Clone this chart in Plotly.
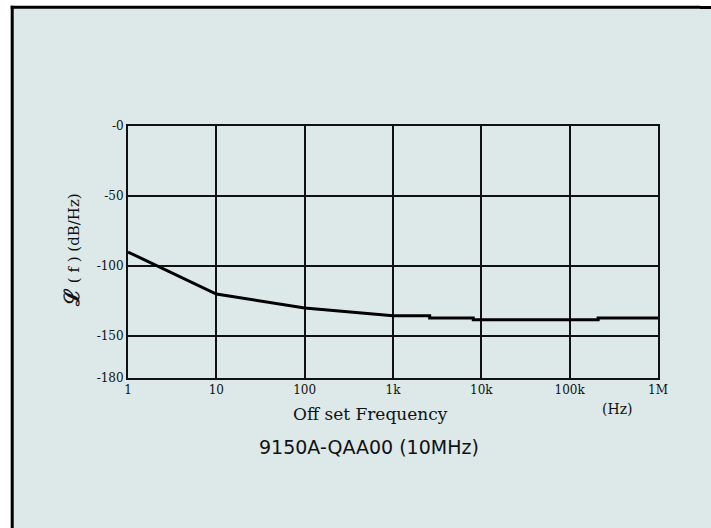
import plotly.graph_objects as go

# ---- data ----
freq_hz = [1, 10, 100, 1000, 2600, 2600, 8100, 8100, 210000, 210000, 1000000]
phase_noise_db = [-90, -120, -130, -135.5, -135.5, -137.2, -137.2, -138.4, -138.4, -137.2, -137.2]

x_tick_vals = [1, 10, 100, 1000, 10000, 100000, 1000000]
x_tick_text = ["1", "10", "100", "1k", "10k", "100k", "1M"]
y_tick_vals = [0, -50, -100, -150, -180]
y_tick_text = ["-0", "-50", "-100", "-150", "-180"]

# ---- layout geometry ----
W, H = 700, 528
L, R, T, B = 128, 42, 126, 150
PW, PH = W - L - R, H - T - B
BG = "#dce9e8"


def px(x):
    return (x - L) / PW


def py(y):
    return (H - y - B) / PH


fig = go.Figure()
fig.add_trace(go.Scatter(
    x=freq_hz, y=phase_noise_db, mode="lines",
    line=dict(color="black", width=3),
    hoverinfo="skip", showlegend=False,
))

shapes = [
    dict(type="rect", xref="paper", yref="paper",
         x0=px(-5), y0=py(540), x1=px(12), y1=py(-5),
         fillcolor="white", line=dict(width=0), layer="below"),
    dict(type="rect", xref="paper", yref="paper",
         x0=px(-5), y0=py(7), x1=px(W + 5), y1=py(-5),
         fillcolor="white", line=dict(width=0), layer="below"),
    dict(type="line", xref="paper", yref="paper",
         x0=px(12.2), y0=py(540), x1=px(12.2), y1=py(5.8),
         line=dict(color="black", width=3), layer="below"),
    dict(type="line", xref="paper", yref="paper",
         x0=px(10.7), y0=py(7.3), x1=px(W + 5), y1=py(7.3),
         line=dict(color="black", width=3), layer="below"),
]

annotations = [
    dict(text="Off set Frequency", x=px(370), y=py(414), xref="paper", yref="paper",
         showarrow=False, font=dict(family="DejaVu Serif", size=17, color="#111"),
         xanchor="center", yanchor="middle"),
    dict(text="9150A-QAA00 (10MHz)", x=px(369), y=py(446.5), xref="paper", yref="paper",
         showarrow=False, font=dict(family="DejaVu Sans", size=19, color="#111"),
         xanchor="center", yanchor="middle"),
    dict(text="(Hz)", x=px(617), y=py(408.5), xref="paper", yref="paper",
         showarrow=False, font=dict(family="DejaVu Serif", size=14, color="#111"),
         xanchor="center", yanchor="middle"),
    dict(text="<b><span style='font-size:21px'>ℒ</span></b> ( f ) (dB/Hz)",
         x=px(71), y=py(250), xref="paper", yref="paper", textangle=-90,
         showarrow=False, font=dict(family="DejaVu Serif", size=15, color="#111"),
         xanchor="center", yanchor="middle"),
]

fig.update_layout(
    width=W, height=H,
    margin=dict(l=L, r=R, t=T, b=B, pad=0),
    paper_bgcolor=BG,
    plot_bgcolor=BG,
    shapes=shapes,
    annotations=annotations,
    showlegend=False,
    xaxis=dict(
        type="log", range=[0, 6],
        tickvals=x_tick_vals, ticktext=x_tick_text,
        tickfont=dict(family="DejaVu Serif", size=12, color="#111"),
        showgrid=True, gridcolor="#111", gridwidth=1.5,
        showline=True, linecolor="#111", linewidth=2, mirror=True,
        ticks="", zeroline=False, fixedrange=True,
    ),
    yaxis=dict(
        range=[-180, 0],
        tickvals=y_tick_vals, ticktext=y_tick_text,
        tickfont=dict(family="DejaVu Serif", size=12, color="#111"),
        showgrid=True, gridcolor="#111", gridwidth=1.5,
        showline=True, linecolor="#111", linewidth=2, mirror=True,
        ticks="", zeroline=False, fixedrange=True,
    ),
)

page_bg = (
    "linear-gradient(to bottom, white 0px, white 5.8px, black 5.8px, "
    f"black 8.8px, {BG} 8.8px, {BG} 100%)"
)

fig.write_html(
    "out.html",
    config={"displayModeBar": False},
    post_script=(
        "document.documentElement.style.overflow='hidden';"
        "document.body.style.margin='0';"
        "document.body.style.overflow='hidden';"
        "document.body.style.minHeight='100vh';"
        f"document.body.style.background='{page_bg}';"
    ),
)
